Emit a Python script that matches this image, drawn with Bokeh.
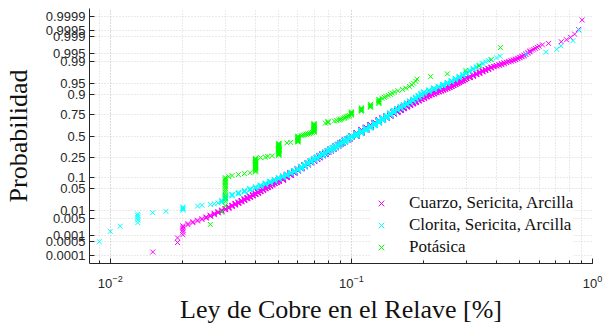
from statistics import NormalDist
from bokeh.plotting import figure
from bokeh.models import FixedTicker, Legend, LegendItem, Range1d, LogTicker
from bokeh.embed import file_html
from bokeh.resources import INLINE

# ---------------- data ----------------
prob_ticks = [0.0001, 0.0005, 0.001, 0.005, 0.01, 0.05, 0.1, 0.25, 0.5,
              0.75, 0.9, 0.95, 0.99, 0.995, 0.999, 0.9995, 0.9999]
prob_labels = ["0.0001", "0.0005", "0.001", "0.005", "0.01", "0.05", "0.1", "0.25", "0.5",
               "0.75", "0.9", "0.95", "0.99", "0.995", "0.999", "0.9995", "0.9999"]

series_names = ["Cuarzo, Sericita, Arcilla", "Clorita, Sericita, Arcilla", "Potásica"]
series_colors = ["#ff00ff", "#00ffff", "#00ff00"]

# Cuarzo, Sericita, Arcilla : grade values [%] and number of samples with that value
cuarzo_vals = [0.015, 0.019, 0.020, 0.021, 0.022, 0.023, 0.024, 0.025, 0.026, 0.027, 0.028, 0.029, 0.030,
               0.031, 0.032, 0.033, 0.034, 0.035, 0.036, 0.037, 0.038, 0.039, 0.040,
               0.041, 0.042, 0.043, 0.044, 0.045, 0.046, 0.047, 0.048, 0.049, 0.050,
               0.052, 0.054, 0.056, 0.058, 0.060,
               0.062, 0.064, 0.066, 0.068, 0.070,
               0.072, 0.074, 0.076, 0.078, 0.080,
               0.082, 0.084, 0.086, 0.088, 0.090,
               0.092, 0.094, 0.096, 0.098, 0.100,
               0.105, 0.110, 0.115, 0.120, 0.125, 0.130, 0.135, 0.140, 0.145, 0.150,
               0.155, 0.160, 0.165, 0.170, 0.175, 0.180, 0.185, 0.190, 0.195, 0.200,
               0.205, 0.210, 0.215, 0.220, 0.225, 0.230, 0.235, 0.240, 0.245, 0.250,
               0.255, 0.260, 0.265, 0.270, 0.275, 0.280, 0.285, 0.290, 0.295, 0.300,
               0.31, 0.32, 0.33, 0.34, 0.35, 0.36, 0.37, 0.38, 0.39, 0.40,
               0.41, 0.42, 0.43, 0.44, 0.45, 0.46, 0.47, 0.48, 0.49, 0.50,
               0.51, 0.52, 0.53, 0.54, 0.55, 0.56, 0.57, 0.58, 0.59, 0.60,
               0.62, 0.657, 0.742, 0.78, 0.81, 0.843, 0.875, 0.906]
cuarzo_counts = [1, 2, 6, 2, 2, 2, 2, 3, 3, 4, 4, 4, 5,
                 6, 6, 7, 7, 8, 9, 9, 10, 11, 11,
                 13, 14, 14, 15, 15, 16, 17, 17, 18, 19,
                 42, 44, 45, 47, 48,
                 52, 53, 54, 55, 56,
                 56, 57, 57, 58, 59,
                 58, 59, 60, 60, 61,
                 57, 57, 57, 58, 58,
                 128, 118, 108, 99, 91, 84, 77, 71, 66, 60,
                 55, 50, 46, 42, 38, 35, 32, 29, 28, 26,
                 21, 19, 18, 17, 15, 14, 14, 13, 12, 12,
                 12, 11, 11, 10, 10, 10, 9, 9, 9, 8,
                 11, 10, 9, 8, 7, 6, 6, 5, 3, 3,
                 3, 3, 3, 2, 2, 2, 2, 2, 2, 2,
                 2, 2, 2, 2, 2, 1, 1, 1, 1, 1,
                 1, 1, 1, 1, 1, 1, 1, 1]

# Clorita, Sericita, Arcilla
clorita_vals = [0.009, 0.010, 0.011, 0.013, 0.015, 0.017, 0.020, 0.023, 0.024, 0.026, 0.027, 0.028, 0.029, 0.030,
                0.032, 0.034, 0.036, 0.038, 0.040,
                0.042, 0.044, 0.046, 0.048, 0.050,
                0.052, 0.054, 0.056, 0.058, 0.060,
                0.062, 0.064, 0.066, 0.068, 0.070,
                0.072, 0.074, 0.076, 0.078, 0.080,
                0.082, 0.084, 0.086, 0.088, 0.090,
                0.092, 0.094, 0.096, 0.098, 0.100,
                0.105, 0.110, 0.115, 0.120, 0.125, 0.130, 0.135, 0.140, 0.145, 0.150,
                0.155, 0.160, 0.165, 0.170, 0.175, 0.180, 0.185, 0.190, 0.195, 0.200,
                0.21, 0.22, 0.23, 0.24, 0.25, 0.26, 0.27, 0.28, 0.29, 0.30,
                0.31, 0.32, 0.33, 0.34, 0.35,
                0.36, 0.37, 0.38, 0.40, 0.414, 0.53, 0.64, 0.71, 0.74, 0.83, 0.88]
clorita_counts = [1, 1, 1, 5, 1, 1, 4, 1, 1, 1, 1, 1, 4, 8,
                  4, 5, 5, 6, 6,
                  7, 8, 8, 9, 9,
                  10, 11, 11, 12, 12,
                  17, 17, 18, 18, 18,
                  16, 17, 17, 17, 17,
                  17, 17, 17, 18, 18,
                  17, 17, 17, 18, 18,
                  35, 33, 31, 30, 29, 28, 27, 26, 25, 24,
                  16, 16, 15, 14, 13, 12, 12, 11, 10, 9,
                  9, 8, 7, 7, 6, 6, 5, 5, 4, 4,
                  3, 3, 2, 2, 2,
                  1, 1, 1, 1, 1, 1, 1, 1, 1, 1, 1]

# Potásica
potasica_vals = [0.026, 0.029, 0.030, 0.031, 0.032, 0.034, 0.036, 0.038, 0.040,
                 0.042, 0.044, 0.045, 0.047, 0.050, 0.054, 0.056, 0.060,
                 0.062, 0.063, 0.064, 0.065, 0.066, 0.067, 0.068, 0.069, 0.070,
                 0.078, 0.080, 0.085, 0.087, 0.089, 0.090,
                 0.091, 0.093, 0.094, 0.095, 0.096, 0.097, 0.098,
                 0.100, 0.110, 0.120, 0.130,
                 0.134, 0.137, 0.139, 0.142, 0.145, 0.148, 0.151, 0.156, 0.163, 0.168,
                 0.174, 0.178, 0.181, 0.185, 0.187, 0.213, 0.250, 0.298, 0.338, 0.380, 0.415]
potasica_counts = [1, 1, 15, 1, 1, 1, 1, 1, 20,
                   1, 1, 1, 1, 24, 1, 1, 13,
                   1, 1, 1, 1, 1, 1, 1, 1, 18,
                   1, 3, 1, 1, 1, 1,
                   1, 1, 1, 1, 1, 1, 1,
                   6, 6, 5, 6,
                   1, 1, 1, 1, 1, 1, 1, 1, 1, 1,
                   1, 1, 1, 1, 1, 1, 1, 1, 1, 1, 1]

# ---------------- helpers ----------------
nd = NormalDist()


def normplot_points(vals, counts):
    xs = []
    for v, c in zip(vals, counts):
        xs.extend([v] * c)
    xs.sort()
    n = len(xs)
    ys = [nd.inv_cdf((i + 0.5) / n) for i in range(n)]
    return xs, ys


# ---------------- figure ----------------
p = figure(width=606, height=326, x_axis_type="log",
           x_range=Range1d(0.0082, 1.0), y_range=Range1d(-3.97, 3.97),
           output_backend="svg", toolbar_location=None,
           min_border_left=89, min_border_right=14, min_border_top=8, min_border_bottom=61)
p.outline_line_color = None
p.background_fill_color = "white"
p.border_fill_color = "white"

tick_pos = [nd.inv_cdf(q) for q in prob_ticks]
p.yaxis.ticker = FixedTicker(ticks=tick_pos)
p.yaxis.major_label_overrides = {t: lab for t, lab in zip(tick_pos, prob_labels)}
p.xaxis.ticker = LogTicker(num_minor_ticks=10)

grid_col = "#d4d4d4"
p.xgrid.grid_line_color = grid_col
p.xgrid.grid_line_dash = "1 2"
p.xgrid.minor_grid_line_color = grid_col
p.xgrid.minor_grid_line_dash = "1 2"
p.ygrid.grid_line_color = grid_col
p.ygrid.grid_line_dash = "1 2"

for ax in (p.xaxis[0], p.yaxis[0]):
    ax.axis_line_color = "#262626"
    ax.axis_line_width = 1
    ax.major_tick_in = 5
    ax.major_tick_out = 0
    ax.minor_tick_in = 3
    ax.minor_tick_out = 0
    ax.major_tick_line_color = "#262626"
    ax.minor_tick_line_color = "#262626"
    ax.major_label_text_font = "Liberation Sans"
    ax.major_label_text_font_size = "13px"
    ax.major_label_text_color = "#262626"
    ax.axis_label_text_font = "Liberation Serif"
    ax.axis_label_text_font_size = "26px"
    ax.axis_label_text_font_style = "normal"
    ax.axis_label_text_color = "#111111"

p.yaxis.minor_tick_line_color = None
p.yaxis.major_label_standoff = 4
p.yaxis.axis_label = "Probabilidad"
p.yaxis.axis_label_standoff = 10
p.xaxis.major_label_standoff = 11
p.xaxis.axis_label = "Ley de Cobre en el Relave [%]"
p.xaxis.axis_label_standoff = 4

renderers = []
for vals, counts, col in ((cuarzo_vals, cuarzo_counts, series_colors[0]),
                          (clorita_vals, clorita_counts, series_colors[1]),
                          (potasica_vals, potasica_counts, series_colors[2])):
    xs, ys = normplot_points(vals, counts)
    r = p.scatter(xs, ys, marker="x", size=7, line_color=col, line_width=1)
    renderers.append(r)

legend = Legend(items=[LegendItem(label=nm, renderers=[r]) for nm, r in zip(series_names, renderers)],
                location=(282, 6))
legend.border_line_color = None
legend.background_fill_color = "white"
legend.background_fill_alpha = 1.0
legend.label_text_font = "Liberation Serif"
legend.label_text_font_size = "17px"
legend.label_text_color = "#111111"
legend.glyph_width = 20
legend.glyph_height = 20
legend.label_height = 20
legend.spacing = 2
legend.padding = 5
legend.margin = 0
legend.label_standoff = 18
p.add_layout(legend)

open("out.html", "w").write(file_html(p, INLINE))
